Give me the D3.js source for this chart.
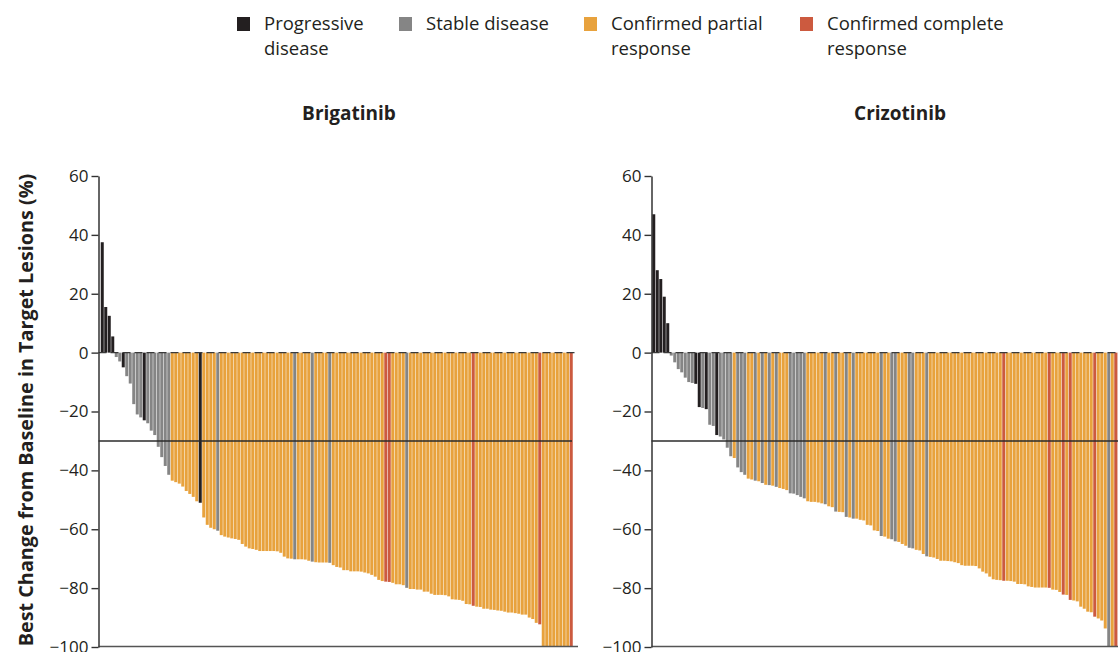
<!DOCTYPE html>
<html><head><meta charset="utf-8">
<script src="https://cdn.jsdelivr.net/npm/d3@7"></script>
<style>
body{margin:0;background:#fff}
svg{display:block}
text{font-family:"Open Sans",Lato,sans-serif;fill:#231f20}
</style>
</head><body>
<svg id="chart" width="1118" height="652"></svg>
<script>
// ---------- data ----------
const yTicks = [60, 40, 20, 0, -20, -40, -60, -80, -100];
const responseCategories = ["PD", "SD", "PR", "CR"];
const legendLabels = [["Progressive", "disease"], ["Stable disease"], ["Confirmed partial", "response"], ["Confirmed complete", "response"]];
const panelTitles = ["Brigatinib", "Crizotinib"];
const yAxisTitle = "Best Change from Baseline in Target Lesions (%)";
const referenceValue = -30;

const brigatinibChange = [
  37.5, 15.5, 12.5, 5.5, -1.5, -3, -5, -8, -10.5, -17.5,
  -21, -22, -23, -24, -26.5, -28, -32, -35.5, -38.5, -41.5,
  -43.5, -44, -44.5, -45.5, -47, -48, -49, -50.5, -51, -56,
  -58.5, -59.5, -60, -60.5, -62, -62.5, -62.8, -63.1, -63.3, -63.6,
  -65, -65.9, -66.5, -66.7, -67, -67.4, -67.4, -67.4, -67.4, -67.4,
  -67.5, -68, -69.3, -69.9, -70, -70.2, -70.2, -70.2, -70.3, -70.7,
  -71, -71.2, -71.3, -71.3, -71.3, -71.4, -72.2, -72.8, -73, -73.9,
  -73.9, -74.3, -74.3, -74.3, -74.4, -74.7, -75, -75.5, -76.1, -77.2,
  -77.6, -77.8, -77.9, -78.2, -78.7, -78.7, -79, -79.9, -80.3, -80.3,
  -80.5, -80.5, -81.2, -81.2, -81.9, -82.3, -82.3, -82.3, -82.4, -82.8,
  -83.8, -83.9, -84, -84.3, -85.4, -85.5, -86, -86.3, -86.4, -87,
  -87, -87.3, -87.4, -87.6, -87.7, -88, -88.3, -88.3, -88.5, -88.7,
  -89, -89, -90, -90.5, -91.8, -92.3, -100, -100, -100, -100,
  -100, -100, -100, -100, -100
];
const brigatinibResponse = [
  "PD","PD","PD","PD","SD","SD","PD","SD","SD","SD",
  "SD","SD","PD","SD","SD","SD","SD","SD","SD","SD",
  "PR","PR","PR","PR","PR","PR","PR","PR","PD","PR",
  "PR","PR","PR","SD","PR","PR","PR","PR","PR","PR",
  "PR","PR","PR","PR","PR","PR","PR","PR","PR","PR",
  "PR","PR","PR","PR","PR","SD","PR","PR","PR","PR",
  "SD","PR","PR","PR","PR","SD","PR","PR","PR","PR",
  "PR","PR","PR","PR","PR","PR","PR","PR","PR","PR",
  "PR","CR","CR","PR","PR","PR","PR","SD","PR","PR",
  "PR","PR","PR","PR","PR","PR","PR","PR","PR","PR",
  "PR","PR","PR","PR","PR","PR","CR","PR","PR","PR",
  "PR","PR","PR","PR","PR","PR","PR","PR","PR","PR",
  "PR","PR","PR","PR","PR","CR","PR","PR","PR","PR",
  "PR","PR","PR","PR","CR"
];

const crizotinibChange = [
  47, 28, 25, 19, 10, -1, -3.3, -5.6, -6.7, -8.5,
  -10, -10.3, -10.6, -18.5, -18.8, -19.2, -24.5, -24.9, -28, -28.5,
  -29.5, -32.3, -35.2, -35.8, -39, -40.6, -41.5, -42.8, -43.1, -43.5,
  -43.7, -44.3, -44.9, -45, -45.2, -45.6, -46, -46.3, -46.7, -47.8,
  -47.9, -48.4, -49, -49.5, -50.5, -50.7, -50.7, -50.9, -51.2, -51.5,
  -52.2, -52.5, -54, -54.1, -54.2, -55.8, -56, -56.4, -56.4, -56.8,
  -57, -58.5, -58.7, -60.4, -60.6, -62.3, -62.5, -63.2, -63.4, -64.1,
  -64.3, -65, -65.6, -66.3, -66.5, -67, -67.2, -68.4, -69.2, -69.4,
  -69.6, -70.1, -70.7, -70.7, -70.8, -70.9, -71.2, -71.5, -72.2, -72.4,
  -72.4, -72.4, -72.5, -73.3, -74.4, -75, -76.1, -77, -77.2, -77.3,
  -77.5, -77.5, -77.6, -77.8, -78.6, -78.6, -78.7, -79.4, -79.6, -79.8,
  -79.8, -79.8, -79.8, -79.9, -80.5, -80.6, -81.3, -82.2, -82.3, -84,
  -84.2, -84.5, -86.3, -87, -88, -88.2, -89.7, -90.3, -91, -93.7,
  -100, -100, -100, -100
];
const crizotinibResponse = [
  "PD","PD","PD","PD","PD","SD","SD","SD","SD","SD",
  "SD","SD","PD","PD","SD","PD","SD","SD","PD","SD",
  "SD","SD","SD","PR","SD","SD","SD","PR","PR","SD",
  "PR","SD","PR","SD","PR","SD","PR","PR","PR","SD",
  "SD","SD","SD","SD","PR","PR","PR","PR","PR","SD",
  "PR","PR","SD","PR","PR","SD","PR","SD","PR","PR",
  "PR","PR","PR","PR","PR","SD","PR","PR","SD","SD",
  "PR","PR","PR","SD","SD","PR","PR","PR","SD","PR",
  "PR","PR","PR","PR","PR","PR","PR","PR","PR","PR",
  "PR","PR","PR","PR","PR","PR","PR","PR","PR","PR",
  "CR","PR","PR","PR","PR","PR","PR","PR","PR","PR",
  "PR","PR","PR","CR","PR","PR","PR","CR","PR","CR",
  "PR","PR","PR","PR","PR","PR","CR","PR","PR","PR",
  "SD","PR","CR","CR"
];

// ---------- drawing ----------
const svg = d3.select("#chart");
const color = d3.scaleOrdinal().domain(responseCategories)
  .range(["#231f20", "#858585", "#e8a23d", "#cc5a3f"]);

const y = d3.scaleLinear().domain([-100, 60]).range([647, 176]);

const panels = [
  {title: panelTitles[0], values: brigatinibChange, resp: brigatinibResponse,
   axisX: 98.5, barStart: 100.5, pitch: 3.5, lineEnd: 578, refEnd: 572, titleX: 349},
  {title: panelTitles[1], values: crizotinibChange, resp: crizotinibResponse,
   axisX: 651.5, barStart: 652, pitch: 3.5, lineEnd: 1118, refEnd: 1118, titleX: 900}
];

panels.forEach(p => {
  const g = svg.append("g");
  const n = p.values.length;
  const x = d3.scaleBand().domain(d3.range(n))
    .range([p.barStart, p.barStart + n * p.pitch]).paddingInner(0.14).paddingOuter(0.07);

  g.selectAll("rect.bar").data(p.values).join("rect")
    .attr("class", "bar")
    .attr("x", (d, i) => x(i))
    .attr("width", x.bandwidth())
    .attr("y", d => Math.min(y(d), y(0)))
    .attr("height", d => Math.abs(y(d) - y(0)))
    .attr("fill", (d, i) => color(p.resp[i]));

  // zero dashed line
  g.append("line")
    .attr("x1", p.axisX).attr("x2", p.lineEnd)
    .attr("y1", y(0)).attr("y2", y(0))
    .attr("stroke", "#3a3a3a").attr("stroke-width", 1.4)
    .attr("stroke-dasharray", "8,4");

  // -30% reference line
  g.append("line")
    .attr("x1", p.axisX).attr("x2", p.refEnd)
    .attr("y1", y(referenceValue)).attr("y2", y(referenceValue))
    .attr("stroke", "#2b2b2b").attr("stroke-width", 1.4);

  // bottom axis line
  g.append("line")
    .attr("x1", p.axisX).attr("x2", p.lineEnd)
    .attr("y1", y(-100) - 0.5).attr("y2", y(-100) - 0.5)
    .attr("stroke", "#555").attr("stroke-width", 1.6);

  // y axis
  const ax = g.append("g")
    .attr("transform", `translate(${p.axisX},0)`)
    .call(d3.axisLeft(y).tickValues(yTicks).tickSize(7).tickSizeOuter(0).tickPadding(3));
  ax.select(".domain").attr("stroke", "#333").attr("stroke-width", 1.5);
  ax.selectAll(".tick line").attr("stroke", "#333").attr("stroke-width", 1.4);
  ax.selectAll(".tick text")
    .style("font-family", "'Open Sans', Lato, sans-serif")
    .style("font-size", "17px").attr("fill", "#333");

  // panel title
  svg.append("text")
    .attr("x", p.titleX).attr("y", 120)
    .attr("text-anchor", "middle")
    .style("font-size", "19px").style("font-weight", "bold")
    .text(p.title);
});

// y axis title
svg.append("text")
  .attr("transform", "translate(33,410) rotate(-90)")
  .attr("text-anchor", "middle")
  .style("font-size", "19.8px").style("font-weight", "bold")
  .text(yAxisTitle);

// legend
const legendX = [237, 399, 584, 800];
const lg = svg.append("g");
responseCategories.forEach((c, i) => {
  lg.append("rect")
    .attr("x", legendX[i]).attr("y", 17).attr("width", 13).attr("height", 14)
    .attr("fill", color(c));
  const t = lg.append("text")
    .attr("x", legendX[i] + 27).attr("y", 30)
    .style("font-size", "18.5px");
  legendLabels[i].forEach((line, j) => {
    t.append("tspan").attr("x", legendX[i] + 27).attr("dy", j === 0 ? 0 : 25).text(line);
  });
});
</script>
</body></html>
